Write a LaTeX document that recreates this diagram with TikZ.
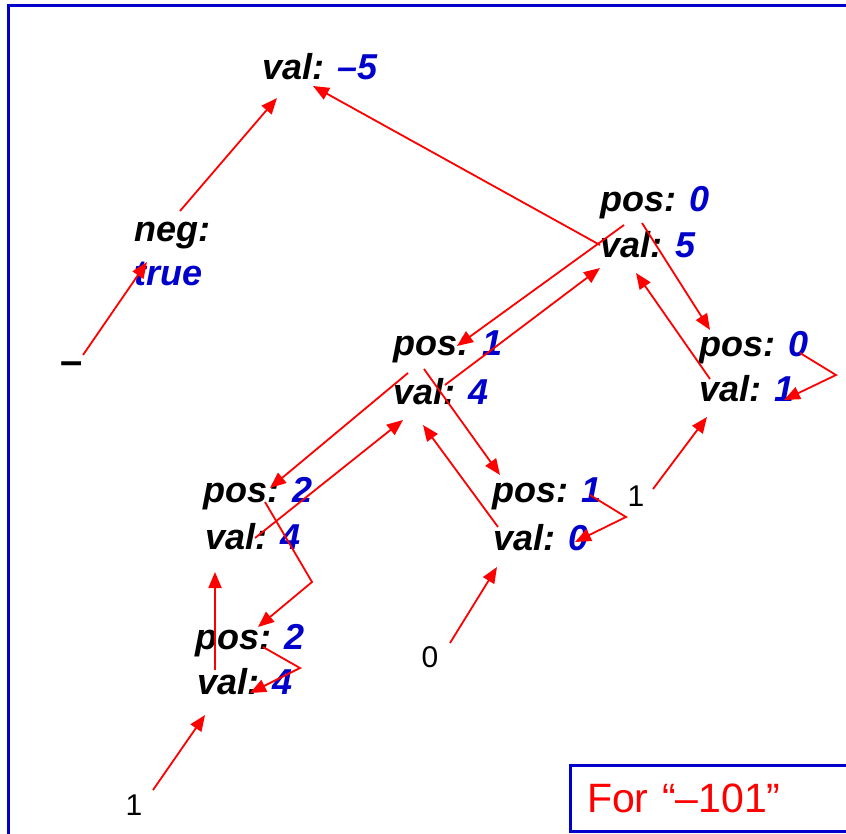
\documentclass[tikz,border=0pt]{standalone}
\usepackage{fontspec}
\setmainfont{Liberation Sans}
\usetikzlibrary{arrows.meta}
\definecolor{numblue}{RGB}{0,0,204}
\definecolor{frameblue}{RGB}{0,0,204}
\newcommand{\nv}[1]{\textcolor{numblue}{#1}}

\begin{document}
\begin{tikzpicture}[
    x=1pt, y=-1pt,
    >={Triangle[length=16pt,width=13pt]},
    lbl/.style={font=\fontsize{36}{42}\selectfont\bfseries\itshape, inner sep=0pt, anchor=base west},
    digit/.style={font=\fontsize{30}{36}\selectfont, inner sep=0pt, anchor=base},
    link/.style={->, red, line width=1.8pt}
]
\useasboundingbox (0,0) rectangle (846,834);
\clip (0,0) rectangle (846,834);

% Outer frame
\draw[frameblue, line width=3pt] (8.5,5.5) rectangle (900,900);

% Nodes
\node[lbl] (topval) at (262,80) {val: \nv{–5}};
\node[lbl] (negk) at (134,242) {neg:};
\node[lbl] (negv) at (134,286) {\nv{true}};
\node[font=\fontsize{40}{48}\selectfont\bfseries, inner sep=0pt, anchor=base west] (minus) at (60,374) {–};

\node[lbl] (rootp) at (600,212) {pos: \nv{0}};
\node[lbl] (rootv) at (600,258) {val: \nv{5}};
\node[lbl] (rp) at (699,356) {pos: \nv{0}};
\node[lbl] (rv) at (699,401) {val: \nv{1}};
\node[lbl] (mp) at (393,355) {pos: \nv{1}};
\node[lbl] (mv) at (393,404) {val: \nv{4}};
\node[lbl] (lp) at (203,502) {pos: \nv{2}};
\node[lbl] (lv) at (205,549) {val: \nv{4}};
\node[lbl] (cp) at (492,502) {pos: \nv{1}};
\node[lbl] (cv) at (493,550) {val: \nv{0}};
\node[lbl] (bp) at (195,649) {pos: \nv{2}};
\node[lbl] (bv) at (197,694) {val: \nv{4}};

% Input digits
\node[digit] (one1) at (636,506) {1};
\node[digit] (zero) at (430,667) {0};
\node[digit] (one2) at (134,815) {1};

% Links
\draw[link] ([shift={(46,-31)}]negk.base west) -- ([shift={(15,18)}]topval.base west);
\draw[link] ([shift={(23,-19)}]minus.base west) -- ([shift={(13,-24)}]negv.base west);
\draw[link] ([shift={(0,-13)}]rootv.base west) -- ([shift={(51,6)}]topval.base west);
\draw[link] ([shift={(24,-33)}]rootv.base west) -- ([shift={(64,-9)}]mp.base west);
\draw[link] ([shift={(52,-19)}]mv.base west) -- ([shift={(0,10)}]rootv.base west);
\draw[link] ([shift={(42,-35)}]rootv.base west) -- ([shift={(11,-26)}]rp.base west);
\draw[link] ([shift={(11,-22)}]rv.base west) -- ([shift={(36,15)}]rootv.base west);
\draw[link] ([shift={(101,-3)}]rp.base west) -- ([shift={(137,19)}]rp.base west) -- ([shift={(85,-1)}]rv.base west);
\draw[link] ([shift={(17,-17)}]one1.base) -- ([shift={(8,16)}]rv.base west);
\draw[link] ([shift={(15,18)}]mp.base west) -- ([shift={(67,-14)}]lp.base west);
\draw[link] ([shift={(50,-11)}]lv.base west) -- ([shift={(10,16)}]mv.base west);
\draw[link] ([shift={(31,14)}]mp.base west) -- ([shift={(8,-27)}]cp.base west);
\draw[link] ([shift={(5,-23)}]cv.base west) -- ([shift={(30,21)}]mv.base west);
\draw[link] ([shift={(98,-7)}]cp.base west) -- ([shift={(134,15)}]cp.base west) -- ([shift={(82,-8)}]cv.base west);
\draw[link] ([shift={(20,-24)}]zero.base) -- ([shift={(4,17)}]cv.base west);
\draw[link] ([shift={(62,0)}]lp.base west) -- ([shift={(109,80)}]lp.base west) -- ([shift={(63,-22)}]bp.base west);
\draw[link] ([shift={(18,-24)}]bv.base west) -- ([shift={(10,23)}]lv.base west);
\draw[link] ([shift={(68,-2)}]bp.base west) -- ([shift={(105,19)}]bp.base west) -- ([shift={(53,-1)}]bv.base west);
\draw[link] ([shift={(19,-25)}]one2.base) -- ([shift={(8,21)}]bv.base west);

% Caption box
\node[draw=frameblue, line width=3pt, text=red, font=\fontsize{41}{48}\selectfont,
      anchor=north west, inner xsep=17pt, inner ysep=0pt, text width=300pt,
      minimum height=66pt, align=left] (note) at (568.5,763.5) {For “–101”};
\end{tikzpicture}
\end{document}
